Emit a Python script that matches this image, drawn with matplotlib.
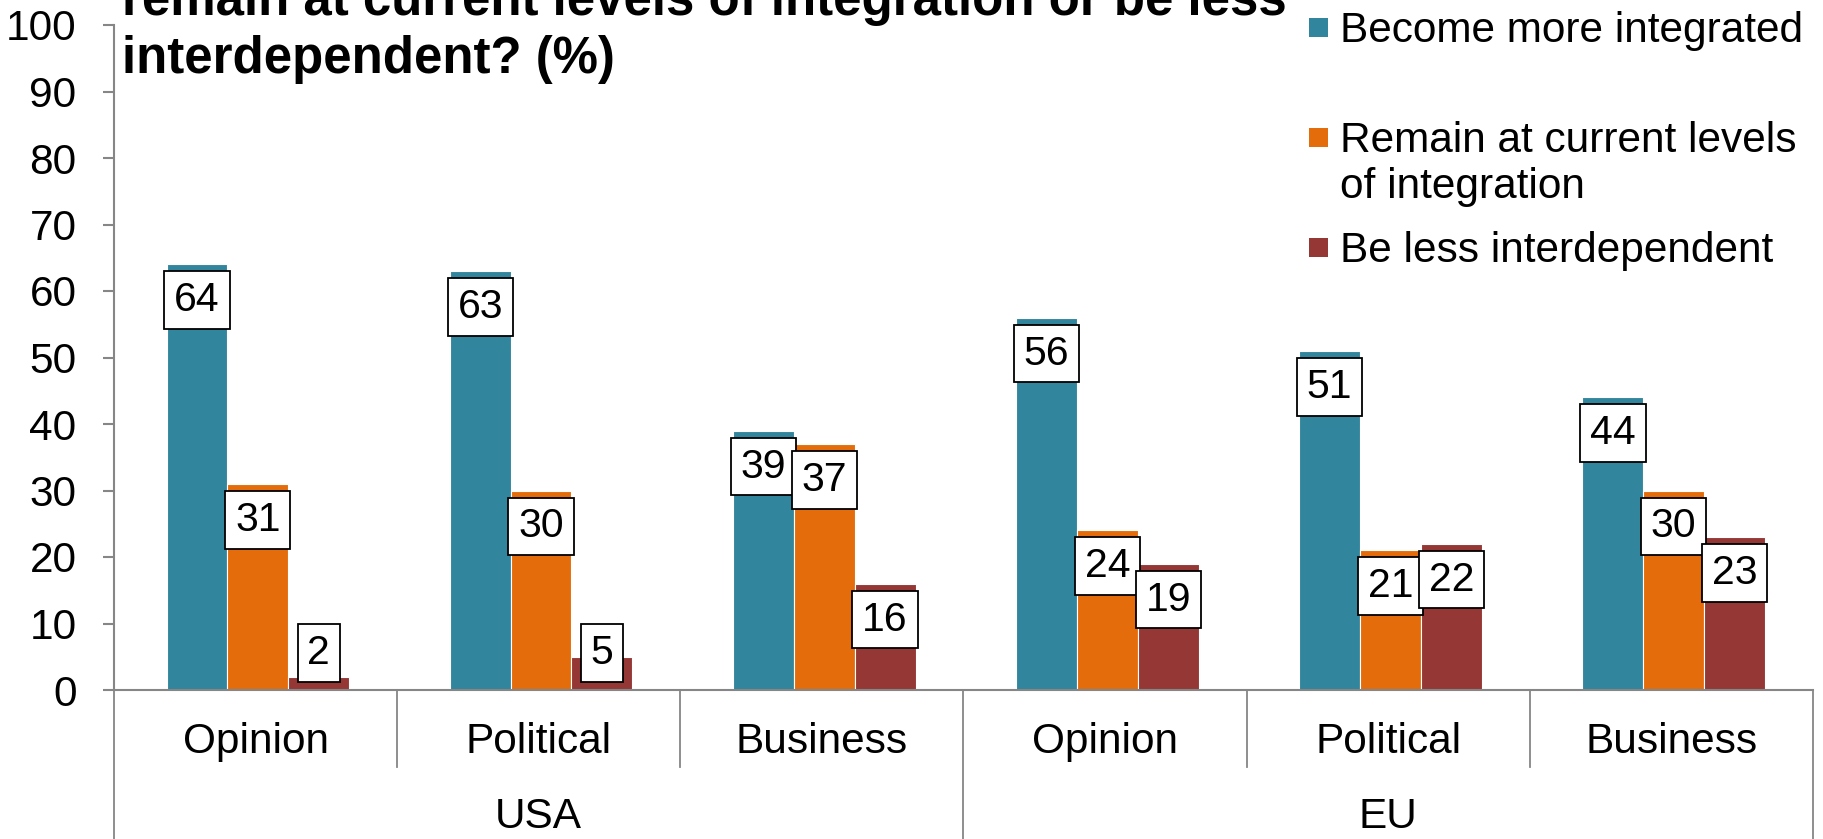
import matplotlib.pyplot as plt
import numpy as np
from matplotlib.patches import Rectangle

plt.rcParams['font.family'] = ['Liberation Sans', 'DejaVu Sans']

groups = ["USA", "EU"]
categories = ["Opinion", "Political", "Business"]
series_names = ["Become more integrated", "Remain at current levels\nof integration", "Be less interdependent"]
more_integrated = [64, 63, 39, 56, 51, 44]
remain_current = [31, 30, 37, 24, 21, 30]
less_interdependent = [2, 5, 16, 19, 22, 23]
title_lines = ["remain at current levels of integration or be less", "interdependent? (%)"]

colors = ["#31859C", "#E46C0A", "#953735"]
grey = "#868686"
W, H = 1823, 839
fs = 30.5

fig = plt.figure(figsize=(W / 100, H / 100), dpi=100)
ax = fig.add_axes([114 / W, 1 - 690 / H, 1699 / W, 665 / H])

x = np.arange(len(groups) * len(categories))
width = 0.215
all_series = [more_integrated, remain_current, less_interdependent]
for i, vals in enumerate(all_series):
    xpos = x + (i - 1) * width + 0.008
    ax.bar(xpos, vals, width, color=colors[i], edgecolor="white", linewidth=0.8, zorder=2)
    for xp, v in zip(xpos, vals):
        ax.text(xp, max(v - 5.4, 5.6), str(v), ha="center", va="center", fontsize=29.5, zorder=4,
                bbox=dict(boxstyle="square,pad=0.24", facecolor="white", edgecolor="black", linewidth=1.3))

ax.set_xlim(-0.5, len(x) - 0.5)
ax.set_ylim(0, 100)
ax.set_yticks(range(0, 101, 10))
ax.set_xticks([])
ax.tick_params(axis="y", direction="out", length=8, width=1.5, color=grey, labelsize=fs, pad=19)
for s in ["top", "right"]:
    ax.spines[s].set_visible(False)
for s in ["left", "bottom"]:
    ax.spines[s].set_color(grey)
    ax.spines[s].set_linewidth(1.5)

# multi-level category axis below the bars
trans = ax.get_xaxis_transform()
for b in np.arange(-0.5, len(x), 1.0):
    low = -0.25 if b in (-0.5, 2.5, 5.5) else -0.116
    ax.plot([b, b], [0, low], color=grey, lw=1.3, transform=trans, clip_on=False)
for i, xp in enumerate(x):
    ax.text(xp, -0.078, categories[i % 3], ha="center", va="center", fontsize=fs, transform=trans)
for g, name in enumerate(groups):
    ax.text(g * 3 + 1, -0.191, name, ha="center", va="center", fontsize=fs, transform=trans)

# title, partly running off the top edge
fig.text(122 / W, 1 - 15 / H, title_lines[0], fontsize=36.7, fontweight="bold", va="baseline")
fig.text(122 / W, 1 - 73 / H, title_lines[1], fontsize=36.7, fontweight="bold", va="baseline")

# legend
marker_tops = [18, 128, 238]
legend_lines = [[(series_names[0], 42)],
                [(l, b) for l, b in zip(series_names[1].split("\n"), [152, 198])],
                [(series_names[2], 262)]]
for i in range(3):
    fig.add_artist(Rectangle((1309 / W, 1 - (marker_tops[i] + 19) / H), 19 / W, 19 / H,
                             transform=fig.transFigure, facecolor=colors[i], edgecolor="none"))
    for txt, base in legend_lines[i]:
        fig.text(1340 / W, 1 - base / H, txt, fontsize=fs, va="baseline")

fig.savefig("out.png", dpi=100)
